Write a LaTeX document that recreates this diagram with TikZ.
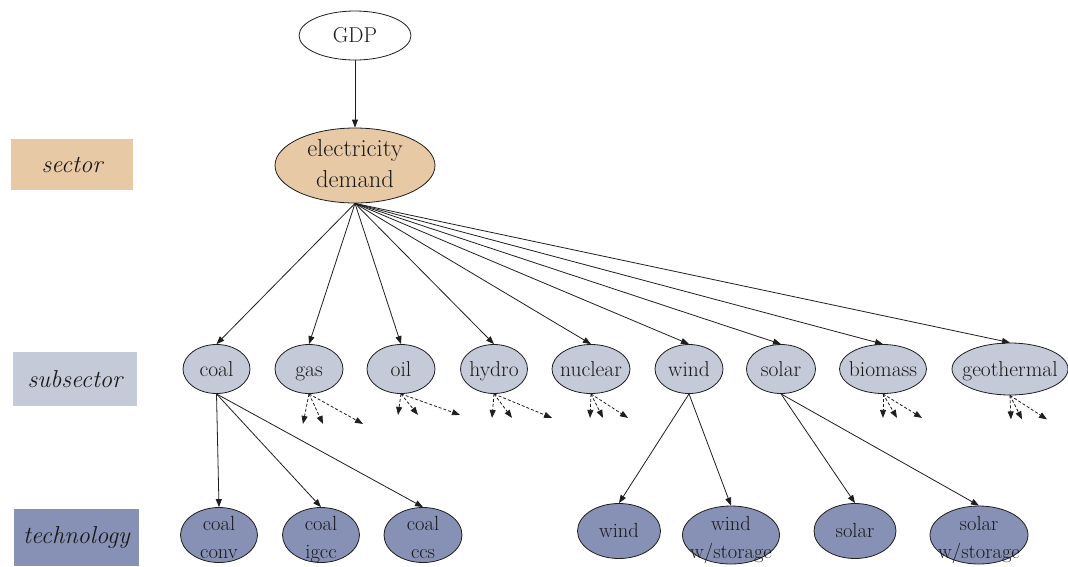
\documentclass[tikz,border=0pt]{standalone}
\usepackage{fontspec}
\usetikzlibrary{shapes.geometric,arrows.meta}
\definecolor{tanfill}{RGB}{232,201,166}
\definecolor{subfill}{RGB}{197,202,216}
\definecolor{techfill}{RGB}{135,145,181}
\definecolor{edgecol}{RGB}{30,30,30}
\definecolor{textcol}{RGB}{25,25,25}
\tikzset{
  ell/.style={ellipse, draw=edgecol, line width=0.8pt, inner sep=0pt},
  txt/.style={align=center, inner sep=0pt, yshift=-2pt, text=textcol, font=\fontsize{21.5}{26}\selectfont},
  subnode/.style={ell, fill=subfill, minimum height=49pt},
  technode/.style={ell, fill=techfill, minimum height=55pt},
  ttxt/.style={align=center, inner sep=0pt, yshift=-3.5pt, text=textcol, font=\fontsize{20.5}{28}\selectfont},
  stxt/.style={align=center, inner sep=0pt, yshift=-1pt, text=textcol, font=\fontsize{20.5}{28}\selectfont},
  lab/.style={rectangle, inner sep=0pt, text=textcol, font=\fontsize{24.5}{30}\selectfont\itshape},
  arr/.style={draw=edgecol, line width=0.8pt, -{Triangle[length=8pt,width=6pt]}},
  dsh/.style={draw=edgecol, line width=0.8pt, dashed, dash pattern=on 3pt off 2pt, -{Triangle[length=8pt,width=6pt]}}
}
\begin{document}
\begin{tikzpicture}[x=1pt,y=-1pt]
\useasboundingbox (0,0) rectangle (1068,566);
% label boxes
\node[lab, fill=tanfill, minimum width=122pt, minimum height=51pt] (lsector) at (72,164.5) {sector};
\node[lab, fill=subfill, minimum width=124pt, minimum height=54pt] (lsub) at (75,379) {subsector};
\node[lab, fill=techfill, minimum width=125pt, minimum height=57pt] (ltech) at (76.5,537.5) {technology};
% top
\node[ell, fill=white, minimum width=112pt, minimum height=49pt, label={[txt]center:\strut GDP}] (gdp) at (355,35.5) {};
\node[ell, fill=tanfill, minimum width=160pt, minimum height=75pt, label={[align=center, inner sep=0pt, text=textcol, font=\fontsize{24.5}{31}\selectfont]center:\strut electricity\\\strut demand}] (ed) at (355,165.5) {};
% subsectors
\node[subnode, minimum width=67pt, label={[txt]center:\strut coal}] (coal) at (216.5,369) {};
\node[subnode, minimum width=68pt, label={[txt]center:\strut gas}] (gas) at (309,369) {};
\node[subnode, minimum width=68pt, label={[txt]center:\strut oil}] (oil) at (401,369) {};
\node[subnode, minimum width=67pt, label={[txt]center:\strut hydro}] (hydro) at (494,369) {};
\node[subnode, minimum width=78pt, label={[txt]center:\strut nuclear}] (nuclear) at (591,369) {};
\node[subnode, minimum width=68pt, label={[txt]center:\strut wind}] (wind) at (689,369) {};
\node[subnode, minimum width=69pt, label={[txt]center:\strut solar}] (solar) at (781,369) {};
\node[subnode, minimum width=87pt, label={[txt]center:\strut biomass}] (biomass) at (883,369) {};
\node[subnode, minimum width=116pt, minimum height=52pt, label={[txt]center:\strut geothermal}] (geo) at (1010,369) {};
% technologies
\node[technode, minimum width=77pt, label={[ttxt]center:\strut coal\\\strut conv}] (cconv) at (219,535) {};
\node[technode, minimum width=77pt, label={[ttxt]center:\strut coal\\\strut igcc}] (cigcc) at (321,535) {};
\node[technode, minimum width=78pt, label={[ttxt]center:\strut coal\\\strut ccs}] (cccs) at (423,535) {};
\node[technode, minimum width=83pt, label={[stxt]center:\strut wind}] (twind) at (619,531) {};
\node[technode, minimum width=97pt, minimum height=58pt, label={[ttxt]center:\strut wind\\\strut w/storage}] (twinds) at (731,535) {};
\node[technode, minimum width=82pt, label={[stxt]center:\strut solar}] (tsolar) at (855,531) {};
\node[technode, minimum width=98pt, minimum height=58pt, label={[ttxt]center:\strut solar\\\strut w/storage}] (tsolars) at (979,535) {};
% edges
\draw[arr] (gdp.south) -- (ed.north);
\foreach \n in {coal,gas,oil,hydro,nuclear,wind,solar,biomass,geo}
  \draw[arr] (ed.south) -- (\n.north);
\draw[arr] (coal.south) -- (cconv.north);
\draw[arr] (coal.south) -- (cigcc.north);
\draw[arr] (coal.south) -- (cccs.north);
\draw[arr] (wind.south) -- (twind.north);
\draw[arr] (wind.south) -- (twinds.north);
\draw[arr] (solar.south) -- (tsolar.north);
\draw[arr] (solar.south) -- (tsolars.north);
% dashed stubs
\draw[dsh] (gas.south) -- ++(-6,30);
\draw[dsh] (gas.south) -- ++(14,30);
\draw[dsh] (gas.south) -- ++(54,30);
\draw[dsh] (oil.south) -- ++(-3,21);
\draw[dsh] (oil.south) -- ++(17,21);
\draw[dsh] (oil.south) -- ++(59,21);
\draw[dsh] (hydro.south) -- ++(-2,24);
\draw[dsh] (hydro.south) -- ++(18,24);
\draw[dsh] (hydro.south) -- ++(58,24);
\draw[dsh] (nuclear.south) -- ++(-1,24);
\draw[dsh] (nuclear.south) -- ++(12,24);
\draw[dsh] (nuclear.south) -- ++(37,24);
\draw[dsh] (biomass.south) -- ++(0,24);
\draw[dsh] (biomass.south) -- ++(14,24);
\draw[dsh] (biomass.south) -- ++(39,24);
\draw[dsh] (geo.south) -- ++(1,24);
\draw[dsh] (geo.south) -- ++(12,24);
\draw[dsh] (geo.south) -- ++(37,24);
\end{tikzpicture}
\end{document}
